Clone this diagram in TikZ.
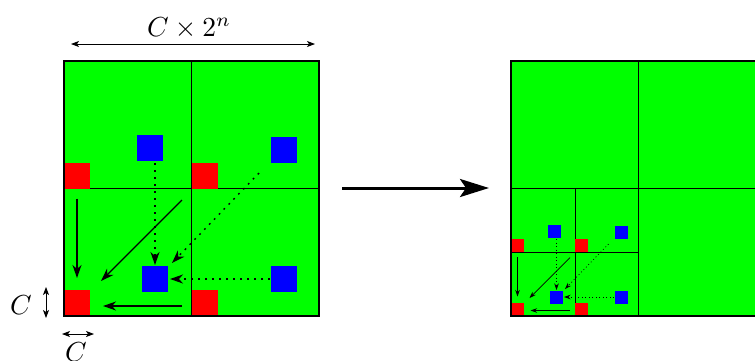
\documentclass[tikz,border=0pt]{standalone}
\usetikzlibrary{arrows.meta,calc}
\definecolor{grn}{RGB}{0,255,0}
\definecolor{blu}{RGB}{0,0,255}
\definecolor{rd}{RGB}{255,0,0}
\tikzset{
  redsq/.style={fill=rd,draw=none,inner sep=0pt,outer sep=0pt},
  bluesq/.style={fill=blu,draw=none,inner sep=0pt,outer sep=0pt},
  gridln/.style={line width=0.8pt,black},
  border/.style={line width=1.5pt,black},
  dimarr/.style={line width=0.8pt,{Stealth[length=8pt,width=6pt,inset=2pt]}-{Stealth[length=8pt,width=6pt,inset=2pt]}},
  bigarr/.style={line width=3pt,-{Stealth[length=29pt,width=18pt,inset=6pt]}},
  lbl/.style={inner sep=0pt}
}
\newcommand\quadcopy[3]{%
  \pgfmathsetmacro\qs{26*#2}%
  \pgfmathsetmacro\qlw{1.4*#2}%
  \pgfmathsetmacro\qhl{13*#2}%
  \pgfmathsetmacro\qhw{9*#2}%
  \pgfmathsetmacro\qhi{4*#2}%
  \pgfmathsetmacro\qdon{1.8*#2}%
  \pgfmathsetmacro\qdoff{5.2*#2}%
  \begin{scope}[shift={#1},scale=#2,
      solidarr/.style={line width=\qlw pt,-{Stealth[length=\qhl pt,width=\qhw pt,inset=\qhi pt]}},
      dotarr/.style={line width=\qlw pt,dash pattern=on \qdon pt off \qdoff pt,-{Stealth[length=\qhl pt,width=\qhw pt,inset=\qhi pt]}}]
    \node[redsq,minimum size=\qs pt] (#3r1) at (13,114.5) {};
    \node[redsq,minimum size=\qs pt] (#3r2) at (140.5,114.5) {};
    \node[redsq,minimum size=\qs pt] (#3r3) at (13,242) {};
    \node[redsq,minimum size=\qs pt] (#3r4) at (140.5,242) {};
    \node[bluesq,minimum size=\qs pt] (#3b1) at (86,87) {};
    \node[bluesq,minimum size=\qs pt] (#3b2) at (220,89) {};
    \node[bluesq,minimum size=\qs pt] (#3b3) at (91,218) {};
    \node[bluesq,minimum size=\qs pt] (#3b4) at (220,218) {};
    \draw[solidarr] ($(#3r1.south)+(0,10)$) -- ($(#3r3.north)+(0,-12)$);
    \draw[solidarr] ($(#3r2.south west)+(-9.5,11.5)$) -- ($(#3r3.north east)+(11,-9)$);
    \draw[solidarr] ($(#3r4.west)+(-9.5,3)$) -- ($(#3r3.east)+(13,3)$);
    \draw[dotarr] ($(#3b1.south -| #3b3.north)+(0,2)$) -- ($(#3b3.north)+(0,-1)$);
    \draw[dotarr] ($(#3b2.south west)+(-12,10)$) -- ($(#3b3.north east)+(4,-3)$);
    \draw[dotarr] ($(#3b4.west)+(-1,0)$) -- ($(#3b3.east)+(2,0)$);
  \end{scope}}
\begin{document}
\begin{tikzpicture}[x=1pt,y=-1pt]
  \useasboundingbox (0,0) rectangle (755,360);
  % left square
  \fill[grn] (64,61) rectangle (319,316);
  \draw[gridln] (191.5,61) -- (191.5,316);
  \draw[gridln] (64,188.5) -- (319,188.5);
  \quadcopy{(64,61)}{1}{L}
  \draw[border] (64,61) rectangle (319,316);
  % dimensions
  \coordinate (d1) at (71,44);
  \coordinate (d2) at (315,44);
  \draw[dimarr] (d1) -- (d2);
  \node[lbl] (top) at (189,28) {\scalebox{2.75}{$C\times 2^n$}};
  \coordinate (v1) at (46,287);
  \coordinate (v2) at (46,318);
  \draw[dimarr] (v1) -- (v2);
  \node[lbl] (lc) at (21,305) {\scalebox{2.75}{$C$}};
  \coordinate (h1) at (62,334);
  \coordinate (h2) at (94,334);
  \draw[dimarr] (h1) -- (h2);
  \node[lbl,anchor=north] (bc) at (76,342) {\scalebox{2.75}{$C$}};
  % big arrow
  \coordinate (a1) at (342,188);
  \coordinate (a2) at (489,188);
  \draw[bigarr] (a1) -- (a2);
  % right square
  \fill[grn] (511,61) rectangle (766,316);
  \draw[gridln] (638.5,61) -- (638.5,316);
  \draw[gridln] (511,188.5) -- (766,188.5);
  \draw[gridln] (575,188) -- (575,316);
  \draw[gridln] (511,252) -- (639,252);
  \quadcopy{(511,188)}{0.5}{R}
  \draw[border] (511,61) rectangle (766,316);
\end{tikzpicture}
\end{document}
